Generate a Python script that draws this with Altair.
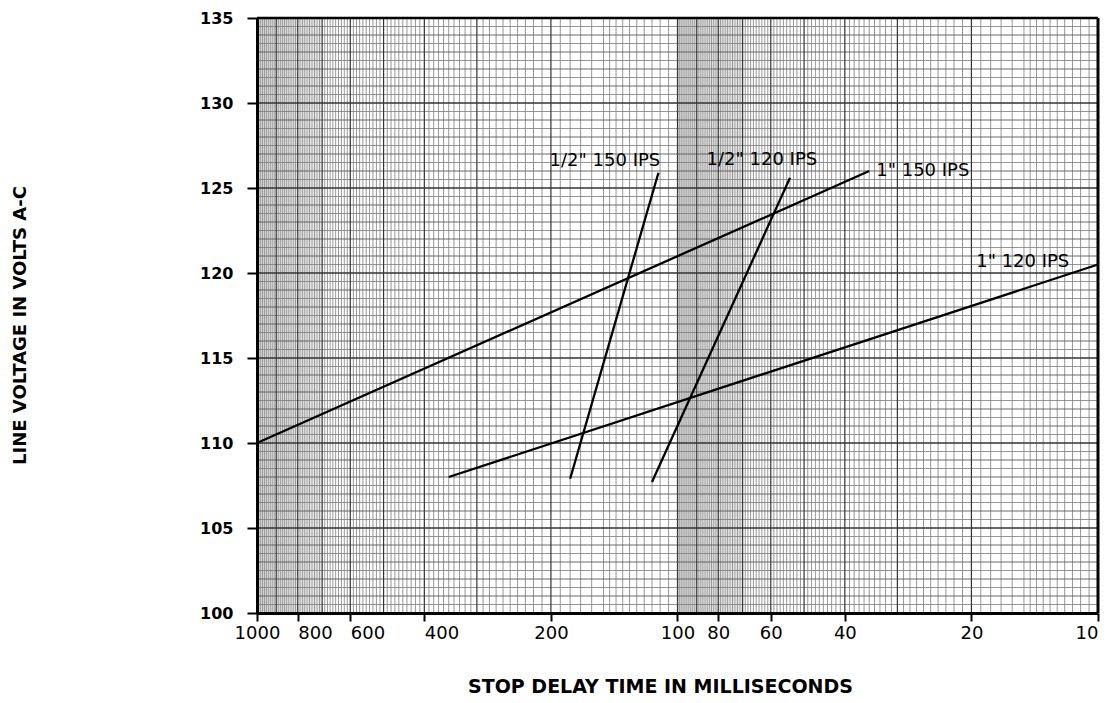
import altair as alt
import numpy as np
import pandas as pd

# ---- data ----
series_names = ['1" 150 IPS', '1" 120 IPS', '1/2" 150 IPS', '1/2" 120 IPS']
x_start = [1000, 350, 180, 115]
y_start = [110.0, 108.0, 107.9, 107.7]
x_end = [35, 10, 111, 54]
y_end = [126.0, 120.5, 125.9, 125.6]

label_texts = ['1/2" 150 IPS', '1/2" 120 IPS', '1" 150 IPS', '1" 120 IPS']
label_x = [148.8, 63.0, 26.1, 15.1]
label_y = [126.6, 126.65, 126.0, 120.65]

x_tick_values = [1000, 800, 600, 400, 200, 100, 80, 60, 40, 20, 10]
y_tick_values = [100, 105, 110, 115, 120, 125, 130, 135]


def seg(a, b, s):
    return [round(float(v), 3) for v in np.arange(a, b + s / 2, s)]


# graph-paper rulings (semi-log paper)
major_x = [float(v) for v in range(10, 101, 10)] + [float(v) for v in range(200, 1001, 100)]
base_minor = seg(10, 15, 0.5) + seg(15, 20, 1) + seg(20, 100, 1)
minor_x = sorted(set(base_minor + [round(v * 10, 3) for v in base_minor]) - set(major_x))
base_fine = seg(70.5, 99.5, 1)
fine_x = base_fine + [round(v * 10, 3) for v in base_fine]

major_y = [float(v) for v in y_tick_values]
medium_y = [float(v) for v in range(100, 136) if v % 5 != 0]
minor_y = seg(100.5, 134.5, 1)

rows = []
for n, xs, ys, xe, ye in zip(series_names, x_start, y_start, x_end, y_end):
    rows.append({"series": n, "pt": 0, "x": xs, "y": ys})
    rows.append({"series": n, "pt": 1, "x": xe, "y": ye})
lines_df = pd.DataFrame(rows)
labels_df = pd.DataFrame({"text": label_texts, "x": label_x, "y": label_y})

xscale = alt.Scale(type="log", domain=[10, 1000], reverse=True, nice=False)
yscale = alt.Scale(domain=[100, 135], nice=False, zero=False)

FONT = "DejaVu Sans"

xaxis = alt.Axis(
    values=x_tick_values, format="d", grid=False,
    labelFlush=False, labelOverlap=False,
    labelAlign=alt.ExprRef(
        "datum.value == 10 ? 'right' : (datum.value == 800 || datum.value == 600 || datum.value == 400) ? 'left' : 'center'"
    ),
    labelFont=FONT, labelFontSize=18, labelColor="black", labelPadding=3,
    tickSize=8, tickWidth=2, tickColor="black",
    domainColor="black", domainWidth=3, zindex=1,
    title="STOP DELAY TIME IN MILLISECONDS",
    titleFont=FONT, titleFontSize=19, titleFontWeight="bold", titleColor="black",
    titleX=403, titleY=79, titleAlign="center", titleBaseline="alphabetic",
)
yaxis = alt.Axis(
    values=y_tick_values, format="d", grid=False,
    labelFont=FONT, labelFontSize=16, labelFontWeight="bold", labelColor="black",
    labelPadding=14,
    tickSize=10, tickWidth=2, tickColor="black",
    domainColor="black", domainWidth=3, zindex=1,
    title="LINE VOLTAGE IN VOLTS A-C",
    titleFont=FONT, titleFontSize=18, titleFontWeight="bold", titleColor="black",
    titleX=-237, titleY=307, titleAngle=270, titleAlign="center", titleBaseline="middle",
)


def vrules(vals, color, width):
    return alt.Chart(pd.DataFrame({"v": vals})).mark_rule(
        color=color, strokeWidth=width
    ).encode(x=alt.X("v:Q", scale=xscale, axis=xaxis))


def hrules(vals, color, width):
    return alt.Chart(pd.DataFrame({"v": vals})).mark_rule(
        color=color, strokeWidth=width
    ).encode(y=alt.Y("v:Q", scale=yscale, axis=yaxis))


grid = [
    vrules(fine_x, "#b8b8b8", 0.5),
    hrules(minor_y, "#7c7c7c", 0.8),
    vrules(minor_x, "#7c7c7c", 0.8),
    hrules(medium_y, "#5a5a5a", 0.9),
    vrules(major_x, "#333333", 1.2),
    hrules(major_y, "#333333", 1.3),
]

lines = alt.Chart(lines_df).mark_line(color="black", strokeWidth=2.3).encode(
    x=alt.X("x:Q", scale=xscale, axis=xaxis),
    y=alt.Y("y:Q", scale=yscale, axis=yaxis),
    detail="series:N",
    order="pt:O",
)

texts = alt.Chart(labels_df).mark_text(
    font=FONT, fontSize=18, color="black", align="center", baseline="middle"
).encode(
    x=alt.X("x:Q", scale=xscale, axis=xaxis),
    y=alt.Y("y:Q", scale=yscale, axis=yaxis),
    text="text:N",
)

top_border = alt.Chart(pd.DataFrame({"v": [135]})).mark_rule(
    color="black", strokeWidth=2.5
).encode(y=alt.Y("v:Q", scale=yscale, axis=yaxis))
right_border = alt.Chart(pd.DataFrame({"v": [10]})).mark_rule(
    color="black", strokeWidth=3
).encode(x=alt.X("v:Q", scale=xscale, axis=xaxis))

chart = alt.layer(*grid, lines, texts, top_border, right_border).properties(
    width=841, height=595,
    padding={"left": 249, "top": 10, "right": 5, "bottom": 82},
    autosize=alt.AutoSizeParams(type="none"),
    background="white",
).configure_view(stroke=None)

chart.save("out.html", embed_options={"renderer": "svg", "actions": False})
